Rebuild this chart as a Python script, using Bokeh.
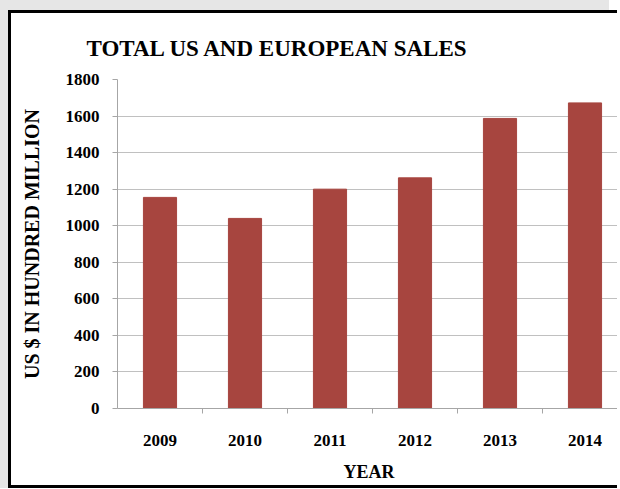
from bokeh.plotting import figure
from bokeh.models import Range1d, FixedTicker
from bokeh.embed import file_html
from bokeh.resources import INLINE

years = ["2009", "2010", "2011", "2012", "2013", "2014"]
sales = [1155, 1040, 1200, 1262, 1587, 1672]
y_ticks = [0, 200, 400, 600, 800, 1000, 1200, 1400, 1600, 1800]

title_text = "TOTAL US AND EUROPEAN SALES"
x_title = "YEAR"
y_title = "US $ IN HUNDRED MILLION"

FONT = "Liberation Serif"
BAR = "#A7453F"

pos = list(range(1, len(years) + 1))
bounds = [p_ + 0.5 for p_ in pos[:-1]]

p = figure(width=609, height=478, output_backend="svg", toolbar_location=None,
           x_range=Range1d(0.5, 0.5 + 503 / 85), y_range=Range1d(0, 1800),
           min_border_left=106, min_border_right=0, min_border_top=66,
           min_border_bottom=83)
p.styles = {"border-left": "3px solid black", "border-top": "3px solid black",
            "border-bottom": "3px solid black",
            "margin-left": "8px", "margin-top": "10px",
            "box-shadow": "-8px -10px 0 0 #e6e6e6, -8px 0 0 0 #e6e6e6"}
p.outline_line_color = None
p.background_fill_color = "white"
p.border_fill_color = "white"

p.title.text = title_text
p.title.align = "left"
p.title.offset = -31
p.title.standoff = 37
p.title.text_font = FONT
p.title.text_font_style = "bold"
p.title.text_font_size = "23px"
p.title.text_color = "black"

p.vbar(x=pos, top=sales, width=0.39, fill_color=BAR, line_color=BAR)

# y axis
p.yaxis.ticker = FixedTicker(ticks=y_ticks)
p.yaxis.major_tick_out = 5
p.yaxis.major_tick_in = 0
p.yaxis.minor_tick_out = 0
p.yaxis.axis_line_color = "#a6a6a6"
p.yaxis.major_tick_line_color = "#a6a6a6"
p.yaxis.major_label_text_font = FONT
p.yaxis.major_label_text_font_style = "bold"
p.yaxis.major_label_text_font_size = "17px"
p.yaxis.major_label_text_color = "black"
p.yaxis.major_label_standoff = 13
p.yaxis.axis_label = y_title
p.yaxis.axis_label_text_font = FONT
p.yaxis.axis_label_text_font_style = "bold"
p.yaxis.axis_label_text_font_size = "20px"
p.yaxis.axis_label_text_color = "black"
p.yaxis.axis_label_standoff = 20

# x axis
p.xaxis.ticker = FixedTicker(ticks=pos, minor_ticks=bounds)
p.xaxis.major_label_overrides = {k: v for k, v in zip(pos, years)}
p.xaxis.major_tick_out = 0
p.xaxis.major_tick_in = 0
p.xaxis.minor_tick_out = 5
p.xaxis.minor_tick_in = 0
p.xaxis.axis_line_color = "#a6a6a6"
p.xaxis.minor_tick_line_color = "#a6a6a6"
p.xaxis.major_label_text_font = FONT
p.xaxis.major_label_text_font_style = "bold"
p.xaxis.major_label_text_font_size = "17px"
p.xaxis.major_label_text_color = "black"
p.xaxis.major_label_standoff = 21
p.xaxis.axis_label = x_title
p.xaxis.axis_label_text_font = FONT
p.xaxis.axis_label_text_font_style = "bold"
p.xaxis.axis_label_text_font_size = "18px"
p.xaxis.axis_label_text_color = "black"
p.xaxis.axis_label_standoff = 13

p.xgrid.grid_line_color = None
p.ygrid.ticker = FixedTicker(ticks=y_ticks)
p.ygrid.grid_line_color = "#c0c0c0"

open("out.html", "w").write(file_html(p, INLINE))
